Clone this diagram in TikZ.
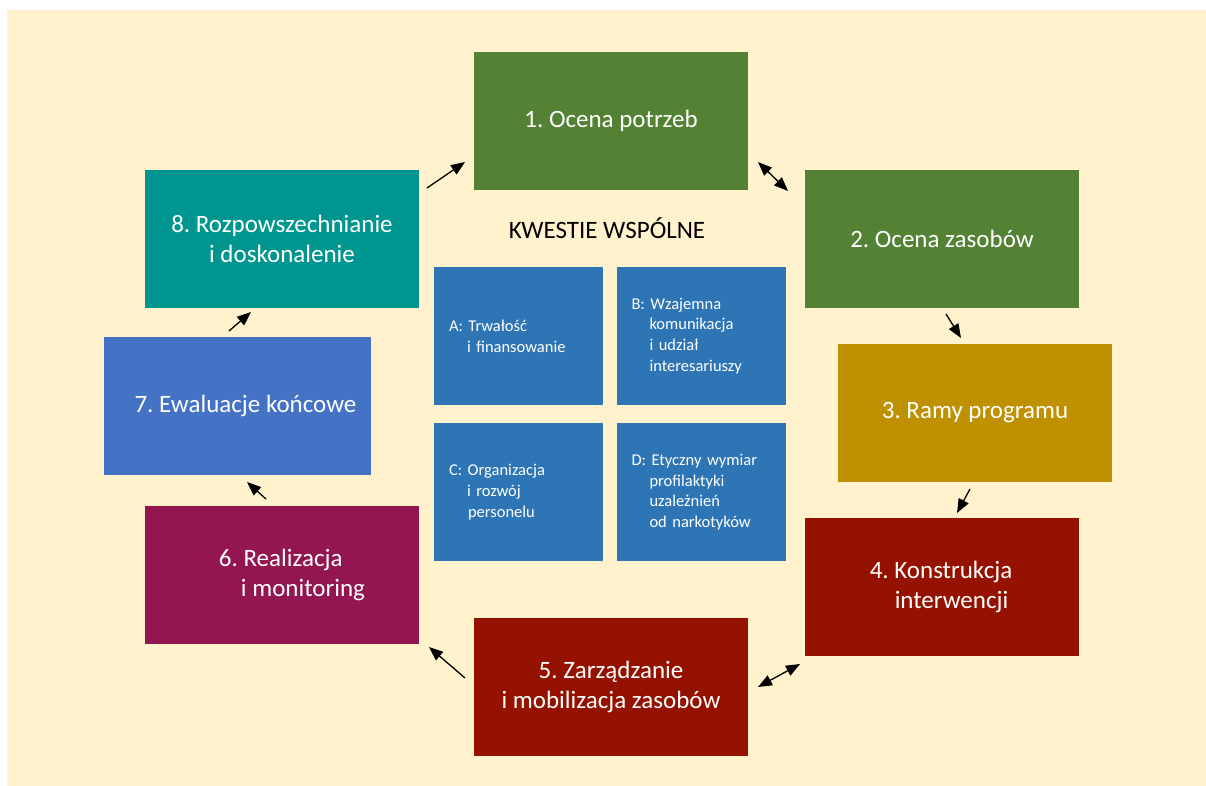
\documentclass[tikz,border=0pt]{standalone}
\usepackage{fontspec}
\setmainfont{Carlito}
\frenchspacing
\usetikzlibrary{arrows.meta}
\definecolor{bgc}{HTML}{FFF2CC}
\definecolor{cgreen}{HTML}{548235}
\definecolor{cgold}{HTML}{BF9000}
\definecolor{cred}{HTML}{961200}
\definecolor{cmag}{HTML}{941651}
\definecolor{cblue}{HTML}{4472C4}
\definecolor{cteal}{HTML}{00968F}
\definecolor{cbox}{HTML}{2E75B6}
\tikzset{
  bigbox/.style={rectangle, minimum width=274pt, minimum height=138pt, inner sep=0pt,
    text=white, font=\fontsize{25}{30}\selectfont\frenchspacing, align=center},
  bigtext/.style={text=white, font=\fontsize{25}{30}\selectfont\frenchspacing, align=left, inner sep=0pt},
  smallbox/.style={rectangle, fill=cbox, text=white, font=\fontsize{16.5}{20.7}\selectfont\frenchspacing,
    align=left, text width=139pt, inner xsep=15pt, inner ysep=0pt, minimum height=138pt},
  arr/.style={line width=1.3pt, -{Triangle[length=14pt,width=11pt]}},
  dblarr/.style={line width=1.3pt, {Triangle[length=14pt,width=11pt]}-{Triangle[length=14pt,width=11pt]}},
}
\begin{document}
\begin{tikzpicture}[x=1pt,y=-1pt]
\useasboundingbox (0,0) rectangle (1206,786);
\fill[white] (0,0) rectangle (1206,786);
\fill[bgc] (7,10) rectangle (1206,786);

\node[bigbox, fill=cgreen] (n1) at (611,121) {1. Ocena potrzeb};
\node[bigbox, fill=cgreen] (n2) at (942,239) {2. Ocena zasobów};
\node[bigbox, fill=cgold]  (n3) at (975,413) {3. Ramy programu};
\node[bigbox, fill=cred]   (n4) at (942,587) {};
\node[bigtext] (t4) at (941,587) {4. Konstrukcja\\\hspace*{25pt}interwencji};
\node[bigbox, fill=cred]   (n5) at (611,687) {5. Zarządzanie\\i mobilizacja zasobów};
\node[bigbox, fill=cmag]   (n6) at (282,575) {};
\node[bigtext] (t6) at (292,575) {6. Realizacja\\\hspace*{22pt}i monitoring};
\node[bigbox, fill=cblue, minimum width=267pt] (n7) at (237.5,406) {};
\node[bigtext] (t7) at (245.5,406) {7. Ewaluacje końcowe};
\node[bigbox, fill=cteal]  (n8) at (282,239) {8. Rozpowszechnianie\\i doskonalenie};

\node[font=\fontsize{25}{30}\selectfont, inner sep=0pt] (title) at (607,228) {KWESTIE WSPÓLNE};

\node[smallbox] (a) at (518.5,336) {A: Trwałość\\\hspace*{18pt}i finansowanie};
\node[smallbox] (b) at (701,336) {B: Wzajemna\\\hspace*{18pt}komunikacja\\\hspace*{18pt}i udział\\\hspace*{18pt}interesariuszy};
\node[smallbox] (c) at (518.5,492) {C: Organizacja\\\hspace*{18pt}i rozwój\\\hspace*{19pt}personelu};
\node[smallbox] (d) at (701,492) {D: Etyczny wymiar\\\hspace*{18pt}profilaktyki\\\hspace*{18pt}uzależnień\\\hspace*{18pt}od narkotyków};

\coordinate (p81) at (427,188);
\coordinate (q81) at (465,162);
\coordinate (p12) at (758,162);
\coordinate (q12) at (788,191);
\coordinate (p23) at (946,314);
\coordinate (q23) at (961,338);
\coordinate (p34) at (970,489);
\coordinate (q34) at (957,513);
\coordinate (p45) at (800,664);
\coordinate (q45) at (758,687);
\coordinate (p56) at (465,678);
\coordinate (q56) at (429,647);
\coordinate (p67) at (266,499);
\coordinate (q67) at (247,482);
\coordinate (p78) at (229,331);
\coordinate (q78) at (251,312);

\draw[arr] (p81) -- (q81);
\draw[dblarr] (p12) -- (q12);
\draw[arr] (p23) -- (q23);
\draw[arr] (p34) -- (q34);
\draw[dblarr] (p45) -- (q45);
\draw[arr] (p56) -- (q56);
\draw[arr] (p67) -- (q67);
\draw[arr] (p78) -- (q78);
\end{tikzpicture}
\end{document}
